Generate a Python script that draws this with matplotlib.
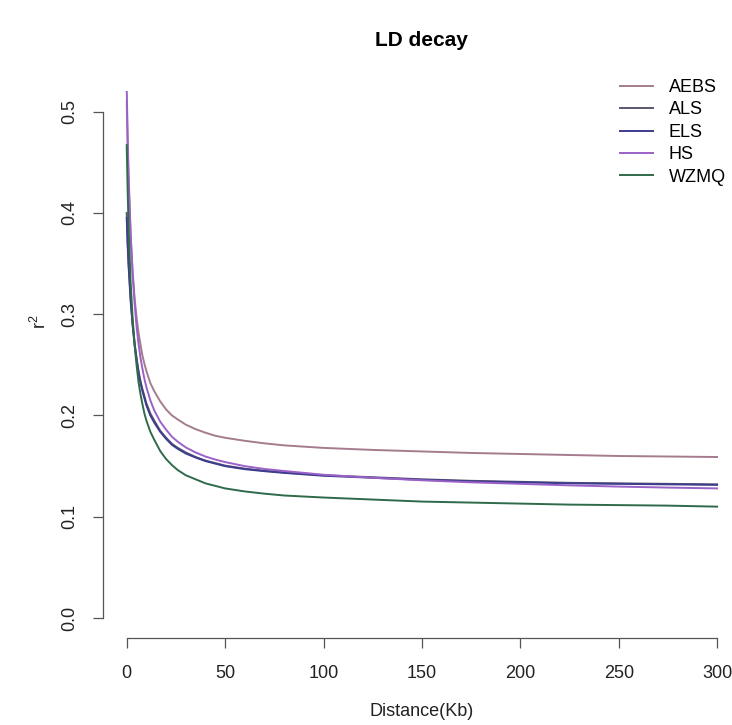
import numpy as np
import matplotlib
matplotlib.use("Agg")
import matplotlib.pyplot as plt

plt.rcParams['font.family'] = ['Liberation Sans', 'DejaVu Sans']
plt.rcParams['mathtext.default'] = 'regular'

# distances (Kb) where the curves were read
dist = [0, 0.5, 1, 2, 3, 4, 5, 6, 7, 8, 9, 10, 12, 14, 17, 20, 23, 26, 30, 35,
        40, 45, 50, 60, 70, 80, 100, 125, 150, 175, 200, 225, 250, 275, 300]

aebs = [0.510, 0.464, 0.428, 0.377, 0.342, 0.316, 0.297, 0.282, 0.270, 0.259,
        0.251, 0.244, 0.232, 0.224, 0.214, 0.206, 0.200, 0.196, 0.191, 0.1865,
        0.183, 0.180, 0.178, 0.175, 0.1725, 0.1705, 0.168, 0.166, 0.1645,
        0.163, 0.162, 0.161, 0.160, 0.1595, 0.159]
als = [0.400, 0.371, 0.349, 0.316, 0.291, 0.272, 0.257, 0.244, 0.234, 0.226,
       0.219, 0.212, 0.202, 0.195, 0.185, 0.178, 0.172, 0.168, 0.1635,
       0.159, 0.1555, 0.153, 0.1505, 0.1475, 0.1455, 0.1438, 0.141, 0.139,
       0.137, 0.1355, 0.1345, 0.1335, 0.133, 0.1325, 0.132]
els = [0.395, 0.367, 0.346, 0.313, 0.289, 0.270, 0.255, 0.242, 0.232, 0.224,
       0.217, 0.210, 0.200, 0.193, 0.184, 0.177, 0.171, 0.167, 0.1625,
       0.1585, 0.155, 0.1525, 0.150, 0.147, 0.145, 0.1433, 0.1405, 0.1385,
       0.1365, 0.135, 0.134, 0.133, 0.1325, 0.132, 0.1315]
hs = [0.524, 0.474, 0.436, 0.379, 0.340, 0.311, 0.288, 0.271, 0.257, 0.246,
      0.236, 0.228, 0.215, 0.205, 0.194, 0.186, 0.179, 0.174, 0.1685,
      0.1635, 0.1595, 0.1565, 0.154, 0.150, 0.1472, 0.1452, 0.1415, 0.1385,
      0.136, 0.134, 0.1325, 0.131, 0.1298, 0.1288, 0.128]
wzmq = [0.467, 0.420, 0.383, 0.331, 0.296, 0.270, 0.250, 0.233, 0.221, 0.211,
        0.202, 0.195, 0.184, 0.176, 0.165, 0.157, 0.151, 0.146, 0.141, 0.137,
        0.133, 0.1305, 0.128, 0.125, 0.1228, 0.121, 0.119, 0.117, 0.115,
        0.114, 0.113, 0.112, 0.1115, 0.111, 0.110]

names = ["AEBS", "ALS", "ELS", "HS", "WZMQ"]
series = [aebs, als, els, hs, wzmq]
cores = ["#A47C8E", "#5A5670", "#3E3C8E", "#9A62C8", "#2F6A4A"]

xticks = [0, 50, 100, 150, 200, 250, 300]
yticks = [0.0, 0.1, 0.2, 0.3, 0.4, 0.5]

fig = plt.figure(figsize=(7.32, 7.25), dpi=100)
ax = fig.add_axes([103.1 / 732, 0.1196, 637.6 / 732, 0.7543])

for nome, vals, cor in zip(names, series, cores):
    ax.plot(dist, vals, color=cor, lw=1.4, label=nome)

ax.set_xlim(-12, 312)
ax.set_ylim(-0.02, 0.52)

for lado in ["top", "right"]:
    ax.spines[lado].set_visible(False)
ax.spines["left"].set_bounds(0, 0.5)
ax.spines["bottom"].set_bounds(0, 300)
for lado in ["left", "bottom"]:
    ax.spines[lado].set_color("#555555")
    ax.spines[lado].set_linewidth(0.9)

ax.set_xticks(xticks)
ax.set_xticklabels([str(t) for t in xticks])
ax.set_yticks(yticks)
ax.set_yticklabels([f"{t:.1f}" for t in yticks])
ax.tick_params(axis="both", length=7, width=0.9, color="#555555",
               labelsize=13, labelcolor="#222222")
ax.tick_params(axis="x", pad=12)
ax.tick_params(axis="y", pad=11, labelrotation=90)
for lab in ax.get_yticklabels():
    lab.set_va("center")

fig.text(421 / 732, 1 - 40 / 725, "LD decay", ha="center", va="center",
         fontsize=15, fontweight="bold")
fig.text(422 / 732, 1 - 712 / 725, "Distance(Kb)", ha="center", va="center",
         fontsize=13, color="#222222")
fig.text(40 / 732, 1 - 322 / 725, "r$^2$", ha="center", va="center",
         fontsize=13, rotation=90, color="#222222")

ax.legend(loc="upper left", bbox_to_anchor=(620 / 732, 1 - 79 / 725),
          bbox_transform=fig.transFigure, frameon=False, fontsize=13,
          handlelength=1.8, handletextpad=0.9, labelspacing=0.3,
          borderpad=0, borderaxespad=0)

fig.savefig("out.png", dpi=100)
